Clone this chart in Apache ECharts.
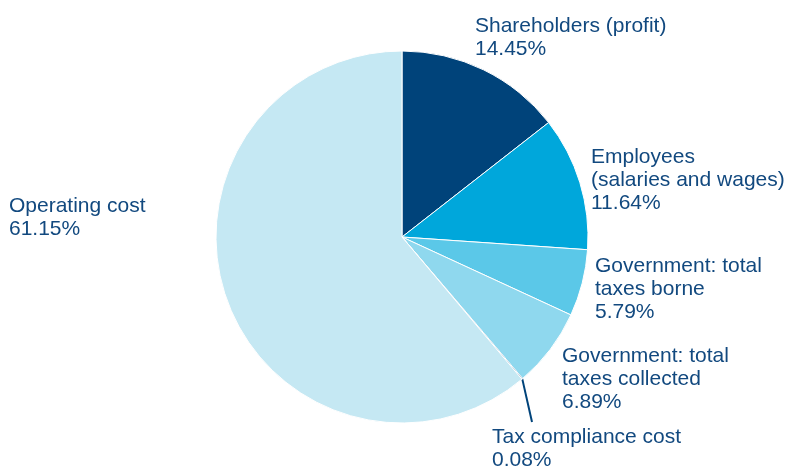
<!DOCTYPE html>
<html>
<head>
<meta charset="utf-8">
<script src="https://cdn.jsdelivr.net/npm/echarts@6/dist/echarts.min.js"></script>
<style>
  html, body { margin: 0; padding: 0; background: #ffffff; }
  #chart { width: 787px; height: 468px; }
</style>
</head>
<body>
<div id="chart"></div>
<script>
// Distribution of the economic value of a company
const categories = [
  'Shareholders (profit)',
  'Employees (salaries and wages)',
  'Government: total taxes borne',
  'Government: total taxes collected',
  'Tax compliance cost',
  'Operating cost'
];
// Label text as set on the page (with line breaks)
const labelTexts = [
  'Shareholders (profit)',
  'Employees\n(salaries and wages)',
  'Government: total\ntaxes borne',
  'Government: total\ntaxes collected',
  'Tax compliance cost',
  'Operating cost'
];
const shares = [14.45, 11.64, 5.79, 6.89, 0.08, 61.15];
const colors = ['#00437a', '#00a7db', '#5bc8e8', '#8fd8ee', '#00437a', '#c5e8f3'];

// Label anchor (top-left corner of each label block)
const labelPos = [
  [475, 15],
  [591, 146],
  [595, 255],
  [562, 345],
  [492, 426],
  [9, 195]
];

const chart = echarts.init(document.getElementById('chart'), null, { renderer: 'canvas' });

const data = categories.map((name, i) => ({
  name: name,
  value: shares[i],
  itemStyle: { color: colors[i] },
  labelLine: { show: i === 4 }
}));

chart.setOption({
  backgroundColor: '#ffffff',
  animation: false,
  series: [{
    type: 'pie',
    center: [402, 237],
    radius: 186,
    startAngle: 90,
    clockwise: true,
    avoidLabelOverlap: false,
    itemStyle: { borderColor: '#ffffff', borderWidth: 1 },
    label: {
      show: true,
      position: 'outside',
      color: '#12497f',
      fontFamily: '"Liberation Sans", Arial, Helvetica, sans-serif',
      fontSize: 21,
      lineHeight: 23,
      align: 'left',
      formatter: p => labelTexts[p.dataIndex] + '\n' + p.value.toFixed(2) + '%'
    },
    labelLine: {
      show: false,
      length: 20,
      length2: 0,
      lineStyle: { color: '#00437a', width: 2 }
    },
    labelLayout: p => {
      const [x, y] = labelPos[p.dataIndex];
      const out = { x: x, y: y, align: 'left', verticalAlign: 'top' };
      // Leader line runs from the slice edge straight down to the label
      if (p.labelLinePoints) {
        const start = p.labelLinePoints[0];
        const end = [x + 40, y - 4];
        out.labelLinePoints = [start, end, end];
      }
      return out;
    },
    data: data
  }]
});
</script>
</body>
</html>
